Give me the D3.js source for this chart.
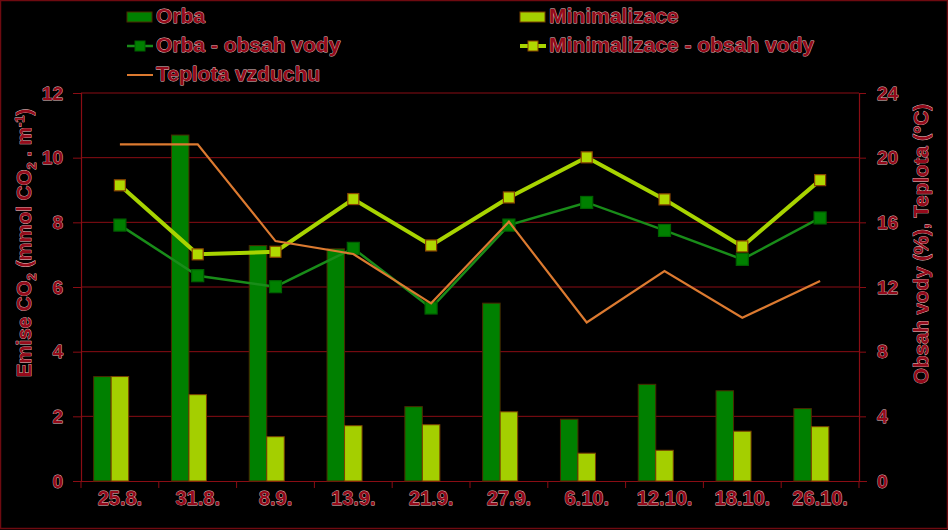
<!DOCTYPE html>
<html><head><meta charset="utf-8">
<script src="https://cdn.jsdelivr.net/npm/d3@7"></script>
<style>
html,body{margin:0;padding:0;background:#000;}
svg{display:block;}
.t{font-family:"Liberation Sans",Arial,sans-serif;font-weight:bold;fill:#940a1a;stroke:#e9c4c4;stroke-width:0.8px;paint-order:stroke;stroke-linejoin:round;}
</style></head><body>
<script>
const categories = ["25.8.","31.8.","8.9.","13.9.","21.9.","27.9.","6.10.","12.10.","18.10.","26.10."];
const orba = [3.23,10.70,7.28,7.18,2.30,5.50,1.91,2.99,2.79,2.24];
const minimalizace = [3.23,2.67,1.37,1.71,1.74,2.14,0.86,0.95,1.54,1.68];
const orbaVoda = [15.83,12.70,12.02,14.39,10.70,15.83,17.23,15.50,13.71,16.27];
const minVoda = [18.29,14.02,14.18,17.44,14.57,17.54,20.02,17.42,14.51,18.61];
const teplota = [20.82,20.82,14.84,14.04,10.99,16.04,9.81,12.99,10.10,12.37];
const leftTicks = [0,2,4,6,8,10,12];
const rightTicks = [0,4,8,12,16,20,24];

const W = 948, H = 530;
const m = {l:81, r:859, t:93, b:481};
const svg = d3.select("body").append("svg").attr("width",W).attr("height",H);
svg.append("rect").attr("x",0.5).attr("y",0.5).attr("width",W-1).attr("height",H-2)
  .attr("fill","#000").attr("stroke","#6e0a10").attr("stroke-width",1.5);

const x = d3.scaleBand().domain(categories).range([m.l,m.r]).padding(0);
const yL = d3.scaleLinear().domain([0,12]).range([m.b,m.t]);
const yR = d3.scaleLinear().domain([0,24]).range([m.b,m.t]);
const red = "#8a0d14";

// gridlines
svg.append("g").selectAll("line").data(leftTicks.filter(d=>d>0)).join("line")
  .attr("x1",m.l).attr("x2",m.r).attr("y1",d=>yL(d)).attr("y2",d=>yL(d))
  .attr("stroke",red).attr("stroke-width",1);

// axes
const axL = svg.append("g").attr("transform",`translate(${m.l},0)`)
  .call(d3.axisLeft(yL).tickValues(leftTicks).tickSize(8).tickPadding(10).tickFormat(d3.format("d")));
const axR = svg.append("g").attr("transform",`translate(${m.r},0)`)
  .call(d3.axisRight(yR).tickValues(rightTicks).tickSize(7).tickPadding(11).tickFormat(d3.format("d")));
const axB = svg.append("g").attr("transform",`translate(0,${m.b})`)
  .call(d3.axisBottom(x).tickSize(0).tickPadding(10));
[axL,axR].forEach(a=>a.selectAll("text").attr("class","t").style("font-size","19px"));
axB.selectAll("text").attr("class","t").style("font-size","20px");
[axL,axR,axB].forEach(a=>{
  a.select(".domain").attr("stroke",red).attr("stroke-width",1.2);
  a.selectAll(".tick line").attr("stroke",red);
});
axB.select(".domain").attr("d",`M${m.l-8},0.5H${m.r+8}`);
// category boundary ticks
svg.append("g").selectAll("line").data(d3.range(categories.length+1)).join("line")
  .attr("x1",i=>m.l+i*x.bandwidth()).attr("x2",i=>m.l+i*x.bandwidth())
  .attr("y1",m.b).attr("y2",m.b+7).attr("stroke",red);

// bars (third empty slot in each group)
const bw = x.bandwidth()*0.225;
const g0 = c=>x(c)+x.bandwidth()/2-1.5*bw;
svg.append("g").selectAll("rect").data(categories).join("rect")
  .attr("x",c=>g0(c)).attr("width",bw)
  .attr("y",(c,i)=>yL(orba[i])).attr("height",(c,i)=>m.b-yL(orba[i]))
  .attr("fill","#008000").attr("stroke","#4a2a00").attr("stroke-width",1);
svg.append("g").selectAll("rect").data(categories).join("rect")
  .attr("x",c=>g0(c)+bw).attr("width",bw)
  .attr("y",(c,i)=>yL(minimalizace[i])).attr("height",(c,i)=>m.b-yL(minimalizace[i]))
  .attr("fill","#a4cf00").attr("stroke","#7a4000").attr("stroke-width",1);

const cx = c=>x(c)+x.bandwidth()/2;
function series(vals, color, width, mfill, mstroke, msize){
  const line = d3.line().x((d,i)=>cx(categories[i])).y(d=>yR(d));
  svg.append("path").datum(vals).attr("d",line).attr("fill","none")
    .attr("stroke",color).attr("stroke-width",width).attr("stroke-linejoin","miter");
  if(mfill){
    svg.append("g").selectAll("rect").data(vals).join("rect")
      .attr("x",(d,i)=>cx(categories[i])-msize/2).attr("y",d=>yR(d)-msize/2)
      .attr("width",msize).attr("height",msize)
      .attr("fill",mfill).attr("stroke",mstroke).attr("stroke-width",1.2);
  }
}
series(orbaVoda,"#198c19",2.5,"#008000","#006000",12);
series(minVoda,"#a8d400",4,"#b0d800","#8b4500",11);
series(teplota,"#dc7a30",2.2,null);

// axis titles
const tl = svg.append("text").attr("class","t").style("font-size","20.5px")
  .attr("transform","translate(31,243) rotate(-90)").attr("text-anchor","middle");
tl.append("tspan").text("Emise CO");
tl.append("tspan").text("2").style("font-size","13px").attr("dy",5);
tl.append("tspan").text(" (mmol CO").attr("dy",-5);
tl.append("tspan").text("2").style("font-size","13px").attr("dy",5);
tl.append("tspan").text(" . m").attr("dy",-5);
tl.append("tspan").text("-1").style("font-size","13px").attr("dy",-7);
tl.append("tspan").text(")").attr("dy",7);
svg.append("text").attr("class","t").style("font-size","20.5px")
  .attr("transform","translate(928,244) rotate(-90)").attr("text-anchor","middle")
  .text("Obsah vody (%), Teplota (°C)");

// legend
const leg = [
  {name:"Orba",x:127,y:23,type:"bar",fill:"#008000",stroke:"#4a2a00"},
  {name:"Minimalizace",x:520,y:23,type:"bar",fill:"#a4cf00",stroke:"#7a4000"},
  {name:"Orba - obsah vody",x:127,y:52,type:"line",color:"#198c19",w:2.5,mfill:"#008000",mstroke:"#006000"},
  {name:"Minimalizace - obsah vody",x:520,y:52,type:"line",color:"#a8d400",w:4,mfill:"#b0d800",mstroke:"#8b4500"},
  {name:"Teplota vzduchu",x:127,y:81,type:"line",color:"#dc7a30",w:2}
];
leg.forEach(l=>{
  const g = svg.append("g");
  if(l.type==="bar"){
    g.append("rect").attr("x",l.x).attr("y",l.y-11).attr("width",25).attr("height",10)
      .attr("fill",l.fill).attr("stroke",l.stroke);
  } else {
    g.append("line").attr("x1",l.x).attr("x2",l.x+26).attr("y1",l.y-6).attr("y2",l.y-6)
      .attr("stroke",l.color).attr("stroke-width",l.w);
    if(l.mfill) g.append("rect").attr("x",l.x+8).attr("y",l.y-11).attr("width",10).attr("height",10)
      .attr("fill",l.mfill).attr("stroke",l.mstroke);
  }
  g.append("text").attr("class","t").style("font-size","21px")
    .attr("x",l.x+29).attr("y",l.y).text(l.name);
});
</script>
</body></html>
